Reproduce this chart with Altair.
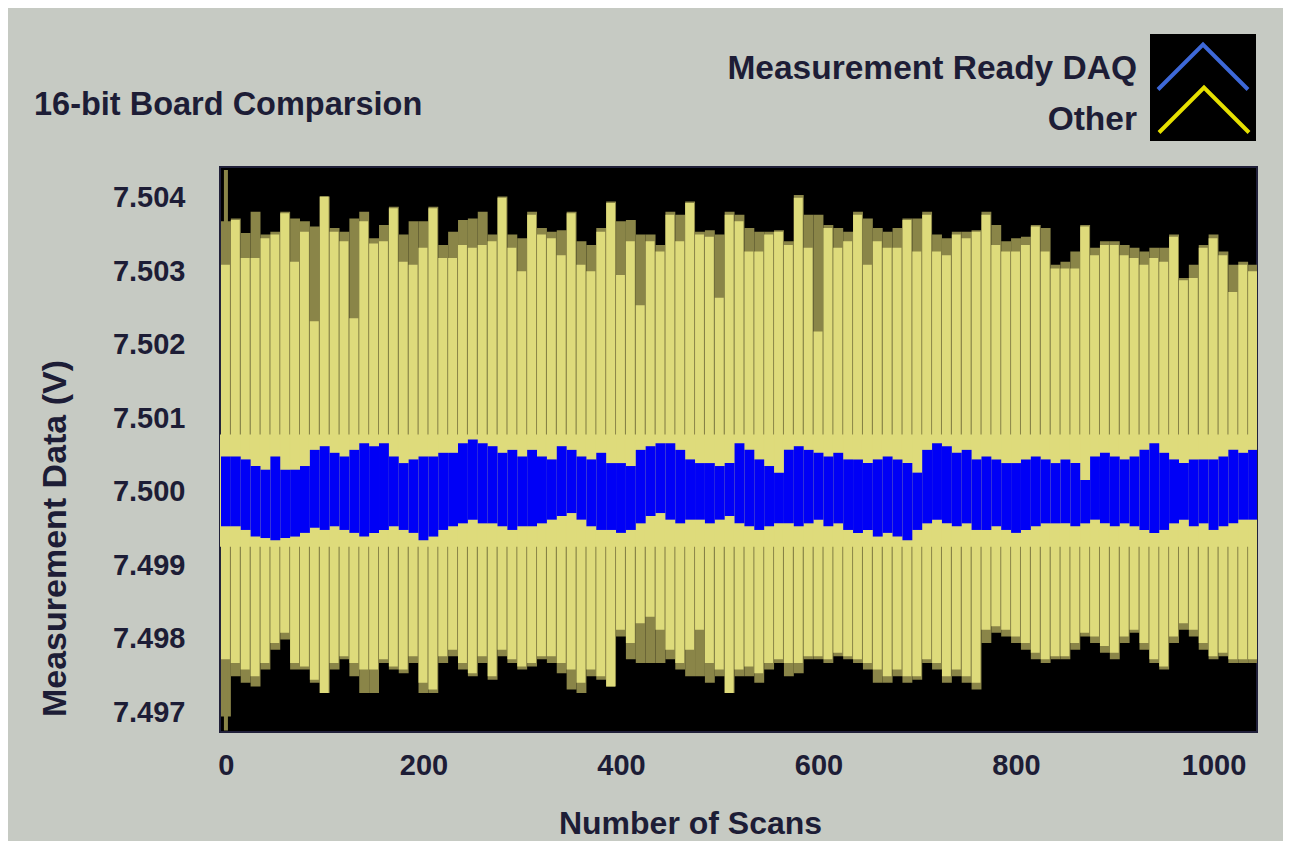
import altair as alt
import pandas as pd

# ---------------- data (one column per 10 scans) ----------------
scans = list(range(0, 1041, 10))

# "Other" board: outer (olive) extent and inner (pale yellow) extent per column
other_peak = [7.50368, 7.50372, 7.50352, 7.50381, 7.50350, 7.50354, 7.50381, 7.50372, 7.50368, 7.50361,
              7.50402, 7.50359, 7.50354, 7.50372, 7.50381, 7.50345, 7.50363, 7.50388, 7.50350, 7.50368,
              7.50368, 7.50388, 7.50336, 7.50354, 7.50370, 7.50372, 7.50381, 7.50350, 7.50402, 7.50350,
              7.50345, 7.50381, 7.50359, 7.50354, 7.50356, 7.50381, 7.50341, 7.50336, 7.50359, 7.50395,
              7.50368, 7.50370, 7.50350, 7.50350, 7.50336, 7.50381, 7.50377, 7.50395, 7.50354, 7.50356,
              7.50350, 7.50381, 7.50377, 7.50359, 7.50354, 7.50354, 7.50356, 7.50341, 7.50404, 7.50377,
              7.50377, 7.50363, 7.50359, 7.50354, 7.50381, 7.50372, 7.50359, 7.50354, 7.50359, 7.50372,
              7.50372, 7.50381, 7.50350, 7.50345, 7.50354, 7.50354, 7.50356, 7.50381, 7.50363, 7.50341,
              7.50345, 7.50347, 7.50363, 7.50359, 7.50309, 7.50313, 7.50327, 7.50363, 7.50332, 7.50341,
              7.50341, 7.50336, 7.50332, 7.50327, 7.50332, 7.50332, 7.50350, 7.50291, 7.50309, 7.50336,
              7.50350, 7.50327, 7.50309, 7.50313, 7.50309]
other_high = [7.50309, 7.50370, 7.50318, 7.50318, 7.50345, 7.50350, 7.50379, 7.50313, 7.50354, 7.50232,
              7.50402, 7.50354, 7.50341, 7.50236, 7.50368, 7.50338, 7.50341, 7.50386, 7.50313, 7.50309,
              7.50332, 7.50386, 7.50318, 7.50318, 7.50336, 7.50332, 7.50336, 7.50341, 7.50400, 7.50332,
              7.50300, 7.50377, 7.50350, 7.50345, 7.50322, 7.50379, 7.50309, 7.50300, 7.50354, 7.50393,
              7.50295, 7.50341, 7.50254, 7.50341, 7.50327, 7.50377, 7.50341, 7.50393, 7.50350, 7.50347,
              7.50264, 7.50377, 7.50368, 7.50327, 7.50327, 7.50350, 7.50354, 7.50336, 7.50400, 7.50332,
              7.50218, 7.50359, 7.50332, 7.50341, 7.50377, 7.50309, 7.50341, 7.50332, 7.50332, 7.50370,
              7.50327, 7.50377, 7.50327, 7.50322, 7.50350, 7.50345, 7.50354, 7.50377, 7.50336, 7.50327,
              7.50327, 7.50336, 7.50361, 7.50327, 7.50304, 7.50304, 7.50304, 7.50361, 7.50322, 7.50336,
              7.50336, 7.50322, 7.50318, 7.50309, 7.50318, 7.50313, 7.50347, 7.50288, 7.50291, 7.50332,
              7.50345, 7.50322, 7.50272, 7.50309, 7.50300]
other_low = [7.49772, 7.49767, 7.49758, 7.49749, 7.49767, 7.49794, 7.49808, 7.49767, 7.49762, 7.49744,
             7.49726, 7.49767, 7.49776, 7.49767, 7.49758, 7.49758, 7.49772, 7.49762, 7.49758, 7.49776,
             7.49740, 7.49731, 7.49776, 7.49785, 7.49767, 7.49753, 7.49776, 7.49749, 7.49785, 7.49772,
             7.49762, 7.49767, 7.49776, 7.49776, 7.49767, 7.49758, 7.49740, 7.49758, 7.49749, 7.49735,
             7.49812, 7.49794, 7.49821, 7.49830, 7.49812, 7.49785, 7.49767, 7.49785, 7.49812, 7.49767,
             7.49758, 7.49726, 7.49758, 7.49762, 7.49753, 7.49767, 7.49772, 7.49767, 7.49767, 7.49776,
             7.49776, 7.49772, 7.49781, 7.49776, 7.49772, 7.49767, 7.49758, 7.49749, 7.49758, 7.49749,
             7.49749, 7.49772, 7.49767, 7.49749, 7.49758, 7.49749, 7.49740, 7.49812, 7.49817, 7.49812,
             7.49803, 7.49794, 7.49781, 7.49772, 7.49776, 7.49776, 7.49794, 7.49808, 7.49803, 7.49790,
             7.49781, 7.49803, 7.49812, 7.49794, 7.49772, 7.49762, 7.49803, 7.49821, 7.49812, 7.49794,
             7.49776, 7.49781, 7.49772, 7.49772, 7.49772]
other_trough = [7.49694, 7.49749, 7.49740, 7.49735, 7.49758, 7.49785, 7.49799, 7.49758, 7.49758, 7.49740,
                7.49726, 7.49758, 7.49772, 7.49749, 7.49726, 7.49726, 7.49767, 7.49758, 7.49753, 7.49767,
                7.49726, 7.49726, 7.49767, 7.49776, 7.49758, 7.49749, 7.49767, 7.49744, 7.49776, 7.49767,
                7.49758, 7.49762, 7.49772, 7.49767, 7.49753, 7.49731, 7.49726, 7.49749, 7.49744, 7.49735,
                7.49803, 7.49772, 7.49767, 7.49767, 7.49767, 7.49772, 7.49758, 7.49749, 7.49749, 7.49740,
                7.49749, 7.49726, 7.49749, 7.49749, 7.49740, 7.49758, 7.49767, 7.49749, 7.49753, 7.49772,
                7.49772, 7.49767, 7.49776, 7.49772, 7.49767, 7.49758, 7.49740, 7.49740, 7.49749, 7.49740,
                7.49744, 7.49767, 7.49758, 7.49740, 7.49749, 7.49740, 7.49731, 7.49794, 7.49808, 7.49803,
                7.49794, 7.49785, 7.49772, 7.49767, 7.49772, 7.49772, 7.49785, 7.49803, 7.49794, 7.49781,
                7.49772, 7.49794, 7.49808, 7.49785, 7.49767, 7.49758, 7.49794, 7.49812, 7.49803, 7.49785,
                7.49772, 7.49776, 7.49767, 7.49767, 7.49767]

# "Measurement Ready DAQ" board: band extent per column
daq_high = [7.50048, 7.50048, 7.50044, 7.50035, 7.50030, 7.50048, 7.50030, 7.50030, 7.50035, 7.50057,
            7.50062, 7.50053, 7.50048, 7.50057, 7.50066, 7.50062, 7.50066, 7.50048, 7.50039, 7.50044,
            7.50048, 7.50048, 7.50053, 7.50053, 7.50066, 7.50071, 7.50066, 7.50062, 7.50053, 7.50057,
            7.50048, 7.50057, 7.50048, 7.50044, 7.50062, 7.50057, 7.50048, 7.50044, 7.50053, 7.50039,
            7.50039, 7.50035, 7.50057, 7.50062, 7.50066, 7.50066, 7.50057, 7.50044, 7.50039, 7.50039,
            7.50035, 7.50039, 7.50066, 7.50057, 7.50044, 7.50035, 7.50026, 7.50057, 7.50062, 7.50057,
            7.50053, 7.50048, 7.50053, 7.50044, 7.50044, 7.50039, 7.50044, 7.50048, 7.50044, 7.50039,
            7.50026, 7.50057, 7.50066, 7.50062, 7.50053, 7.50057, 7.50044, 7.50048, 7.50044, 7.50039,
            7.50039, 7.50044, 7.50048, 7.50044, 7.50039, 7.50044, 7.50039, 7.50016, 7.50048, 7.50053,
            7.50048, 7.50044, 7.50048, 7.50057, 7.50066, 7.50053, 7.50044, 7.50039, 7.50044, 7.50044,
            7.50044, 7.50048, 7.50057, 7.50053, 7.50057]
daq_low = [7.49953, 7.49953, 7.49948, 7.49939, 7.49937, 7.49934, 7.49937, 7.49939, 7.49944, 7.49951,
           7.49948, 7.49953, 7.49948, 7.49944, 7.49939, 7.49944, 7.49948, 7.49953, 7.49948, 7.49944,
           7.49934, 7.49939, 7.49948, 7.49953, 7.49957, 7.49962, 7.49957, 7.49957, 7.49953, 7.49948,
           7.49953, 7.49953, 7.49957, 7.49962, 7.49967, 7.49971, 7.49962, 7.49953, 7.49948, 7.49948,
           7.49944, 7.49948, 7.49957, 7.49967, 7.49971, 7.49962, 7.49957, 7.49962, 7.49962, 7.49957,
           7.49962, 7.49967, 7.49957, 7.49953, 7.49948, 7.49953, 7.49957, 7.49957, 7.49953, 7.49957,
           7.49962, 7.49953, 7.49957, 7.49948, 7.49944, 7.49948, 7.49939, 7.49944, 7.49939, 7.49934,
           7.49948, 7.49957, 7.49962, 7.49957, 7.49953, 7.49957, 7.49948, 7.49948, 7.49953, 7.49948,
           7.49944, 7.49948, 7.49953, 7.49957, 7.49957, 7.49957, 7.49953, 7.49957, 7.49962, 7.49957,
           7.49953, 7.49957, 7.49953, 7.49948, 7.49944, 7.49948, 7.49957, 7.49962, 7.49953, 7.49957,
           7.49948, 7.49953, 7.49957, 7.49962, 7.49962]

# first sample of the "Other" trace (full-height start line) and its solid core band
start_scan = [0]
start_low = [7.49675]
start_high = [7.50438]
core_low = [7.49925]
core_high = [7.50078]

x_ticks = [0, 200, 400, 600, 800, 1000]
y_ticks = [7.497, 7.498, 7.499, 7.500, 7.501, 7.502, 7.503, 7.504]
x_domain = [-6, 1044]
y_domain = [7.49673, 7.50442]

legend_labels = ["Measurement Ready DAQ", "Other"]
title_text = "16-bit Board Comparsion"

# ---------------- styling ----------------
BG = "#c6cac3"
INK = "#1d1d36"
OLIVE = "#8a8548"
YELLOW = "#dedb7b"
BLUE = "#0000f6"
LEG_BLUE = "#3d68d8"
LEG_YELLOW = "#e6e000"
FONT = "Liberation Sans"

df = pd.DataFrame({
    "scan": scans,
    "other_peak": other_peak,
    "other_high": other_high,
    "other_low": other_low,
    "other_trough": other_trough,
    "daq_high": daq_high,
    "daq_low": daq_low,
})

xscale = alt.Scale(domain=x_domain, nice=False, zero=False)
yscale = alt.Scale(domain=y_domain, nice=False, zero=False)

xaxis = alt.Axis(values=x_ticks, format="d", grid=False, ticks=False, tickSize=0, domain=False,
                 labelFont=FONT, labelFontSize=29, labelFontWeight="bold", labelColor=INK,
                 labelPadding=33, labelBaseline="middle", labelFlush=False,
                 title="Number of Scans", titleFont=FONT, titleFontSize=32, titleFontWeight="bold",
                 titleColor=INK, titleX=470, titleY=91, titleAlign="center", titleBaseline="middle")
yaxis = alt.Axis(values=y_ticks, format=".3f", grid=False, ticks=False, tickSize=0, domain=False,
                 labelFont=FONT, labelFontSize=29, labelFontWeight="bold", labelColor=INK,
                 labelPadding=35, labelBaseline="middle", labelFlush=False,
                 title="Measurement Data (V)", titleFont=FONT, titleFontSize=34, titleFontWeight="bold",
                 titleColor=INK, titleX=-165, titleY=371, titleAngle=270, titleAlign="center",
                 titleBaseline="middle")


def X(field):
    return alt.X(field, scale=xscale, axis=xaxis)


def Y(field):
    return alt.Y(field, scale=yscale, axis=yaxis)


base = alt.Chart(df).transform_calculate(
    x0="datum.scan - 5", x1="datum.scan + 5", xy1="datum.scan + 4"
)

olive = base.mark_rect(color=OLIVE, clip=True).encode(
    x=X("x0:Q"), x2="x1:Q", y=Y("other_trough:Q"), y2="other_peak:Q",
)

start = alt.Chart(pd.DataFrame({"x0": start_scan, "lo": start_low, "hi": start_high})).mark_rule(
    color=OLIVE, strokeWidth=4, clip=True
).encode(x=X("x0:Q"), y=Y("lo:Q"), y2="hi:Q")

yellow = base.mark_rect(color=YELLOW, clip=True).encode(
    x=X("x0:Q"), x2="xy1:Q", y=Y("other_low:Q"), y2="other_high:Q",
)

core = alt.Chart(pd.DataFrame({"x0": [x_domain[0]], "b": [x_domain[1]], "lo": core_low, "hi": core_high})).mark_rect(
    color=YELLOW, clip=True
).encode(x=X("x0:Q"), x2="b:Q", y=Y("lo:Q"), y2="hi:Q")

blue = base.mark_rect(color=BLUE, clip=True).encode(
    x=X("x0:Q"), x2="x1:Q", y=Y("daq_low:Q"), y2="daq_high:Q",
)

one = pd.DataFrame({"k": [0]})

title = alt.Chart(one).mark_text(
    text=title_text, font=FONT, fontSize=32.5, fontWeight="bold", color=INK, align="left", baseline="alphabetic"
).encode(x=alt.value(-186), y=alt.value(-52))

legend_box = alt.Chart(one).mark_rect(color="#000000").encode(
    x=alt.value(930), x2=alt.value(1036), y=alt.value(-133), y2=alt.value(-26)
)
caret = "M-1,0.5L0,-0.5L1,0.5"
leg_blue = alt.Chart(one).mark_point(shape=caret, filled=False, size=8100, strokeWidth=4,
                                     color=LEG_BLUE, opacity=1).encode(x=alt.value(983), y=alt.value(-100))
leg_yellow = alt.Chart(one).mark_point(shape=caret, filled=False, size=8100, strokeWidth=4,
                                       color=LEG_YELLOW, opacity=1).encode(x=alt.value(984), y=alt.value(-57))
leg_text1 = alt.Chart(one).mark_text(
    text=legend_labels[0], font=FONT, fontSize=33.5, fontWeight="bold", color=INK, align="right", baseline="alphabetic"
).encode(x=alt.value(917), y=alt.value(-88))
leg_text2 = alt.Chart(one).mark_text(
    text=legend_labels[1], font=FONT, fontSize=33.5, fontWeight="bold", color=INK, align="right", baseline="alphabetic"
).encode(x=alt.value(917), y=alt.value(-37))

chart = alt.layer(
    olive, start, core, yellow, blue, title, legend_box, leg_blue, leg_yellow, leg_text1, leg_text2
).properties(
    width=1037, height=565,
    padding={"left": 212, "top": 159, "right": 26, "bottom": 109},
    autosize=alt.AutoSizeParams(type="none"),
).configure(
    background=BG,
).configure_view(
    fill="#000000", stroke="#20203a", strokeWidth=2,
)

chart.save("out.html", embed_options={"renderer": "svg", "actions": False})
